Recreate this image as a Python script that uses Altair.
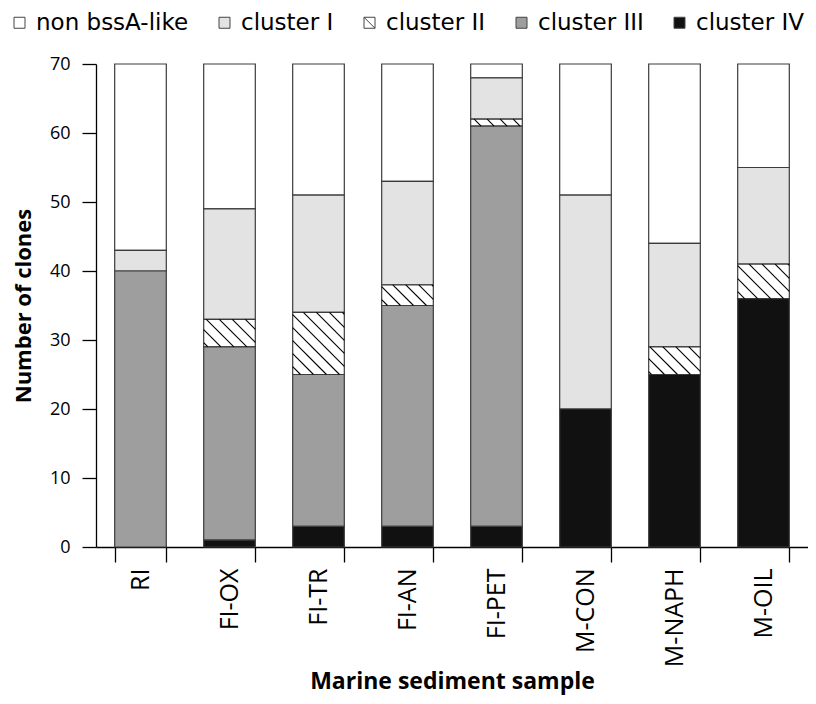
import math
import altair as alt
import pandas as pd

# ---- data ----
samples = ["RI", "FI-OX", "FI-TR", "FI-AN", "FI-PET", "M-CON", "M-NAPH", "M-OIL"]
non_bssa = [27, 21, 19, 17, 2, 19, 26, 15]
cluster_i = [3, 16, 17, 15, 6, 31, 15, 14]
cluster_ii = [0, 4, 9, 3, 1, 0, 4, 5]
cluster_iii = [40, 28, 22, 32, 58, 0, 0, 0]
cluster_iv = [0, 1, 3, 3, 3, 20, 25, 36]

groups = ["non bssA-like", "cluster I", "cluster II", "cluster III", "cluster IV"]
fills = ["#ffffff", "#e3e3e3", "#ffffff", "#9e9e9e", "#111111"]
series = {
    "non bssA-like": non_bssa,
    "cluster I": cluster_i,
    "cluster II": cluster_ii,
    "cluster III": cluster_iii,
    "cluster IV": cluster_iv,
}
stack_order = {"cluster IV": 0, "cluster III": 1, "cluster II": 2, "cluster I": 3, "non bssA-like": 4}

rows = []
for g in groups:
    for s, v in zip(samples, series[g]):
        if v > 0:
            rows.append({"sample": s, "group": g, "count": v, "ord": stack_order[g]})
df = pd.DataFrame(rows)

# ---- geometry ----
W, H = 712, 483
YMAX = 70
n = len(samples)
BAND = 0.58
step_px = W / n
y_px = H / YMAX
half = BAND / 2
SP = 13.0  # hatch spacing in px

# hatch lines for the cluster II segments, derived from the stacked data
hrows = []
for i, v in enumerate(cluster_ii):
    if v <= 0:
        continue
    base = cluster_iv[i] + cluster_iii[i]
    xl = (i + 0.5 - half) * step_px
    xr = (i + 0.5 + half) * step_px
    yb = base * y_px
    yt = (base + v) * y_px
    c = math.ceil((xl + yb) / SP) * SP
    while c < xr + yt:
        a = max(xl, c - yt)
        b = min(xr, c - yb)
        if b - a > 0.5:
            hrows.append({"hx": a / step_px, "hy": (c - a) / y_px,
                          "hx2": b / step_px, "hy2": (c - b) / y_px})
        c += SP
hdf = pd.DataFrame(hrows)

FONT = "Open Sans"

hatched_symbol = "M-1,-1H1V1H-1Z M-1,-1L1,1"
symbol_expr = "datum.value === 'cluster II' ? '%s' : 'square'" % hatched_symbol

bars = alt.Chart(df).mark_bar(stroke="#3c3c3c", strokeWidth=1.2).encode(
    x=alt.X(
        "sample:N",
        sort=samples,
        scale=alt.Scale(paddingInner=1 - BAND, paddingOuter=(1 - BAND) / 2),
        axis=alt.Axis(
            title="Marine sediment sample",
            tickBand="extent",
            labelAngle=-90,
            labelFont=FONT,
            labelFontSize=25,
            labelColor="#000",
            labelPadding=6,
            tickSize=15,
            tickColor="#000",
            tickWidth=1.3,
            domainColor="#000",
            domainWidth=1.3,
            titleFont=FONT,
            titleFontSize=23,
            titleFontWeight="bold",
            titleColor="#000",
            titleX=W / 2,
            titleY=141,
            titleBaseline="alphabetic",
        ),
    ),
    y=alt.Y(
        "count:Q",
        stack="zero",
        scale=alt.Scale(domain=[0, YMAX], nice=False),
        axis=alt.Axis(
            title="Number of clones",
            values=list(range(0, 71, 10)),
            grid=False,
            labelFont=FONT,
            labelFontSize=18,
            labelColor="#000",
            labelPadding=12,
            tickSize=14,
            tickColor="#000",
            tickWidth=1.3,
            domainColor="#000",
            domainWidth=1.3,
            titleFont=FONT,
            titleFontSize=22,
            titleFontWeight="bold",
            titleColor="#000",
            titleX=-73,
            titleY=H / 2,
            titleBaseline="middle",
        ),
    ),
    fill=alt.Fill(
        "group:N",
        scale=alt.Scale(domain=groups, range=fills),
        legend=alt.Legend(
            title=None,
            orient="none",
            legendX=-88,
            legendY=-53,
            direction="horizontal",
            columns=5,
            symbolType={"expr": symbol_expr},
            symbolSize=121,
            symbolStrokeColor="#444",
            symbolStrokeWidth=1,
            labelFont="DejaVu Sans",
            labelFontSize=23,
            labelColor="#000",
            labelLimit=400,
            labelOffset=5,
            columnPadding=24,
            padding=0,
        ),
    ),
    order=alt.Order("ord:Q", sort="ascending"),
)

hatch = alt.Chart(hdf).mark_rule(color="#000", strokeWidth=1.1).encode(
    x=alt.X("hx:Q", scale=alt.Scale(domain=[0, n], nice=False, zero=False), axis=None),
    x2="hx2:Q",
    y=alt.Y("hy:Q", title="Number of clones", scale=alt.Scale(domain=[0, YMAX], nice=False)),
    y2="hy2:Q",
)

chart = (
    alt.layer(bars, hatch)
    .resolve_scale(x="independent")
    .properties(
        width=W,
        height=H,
        padding={"left": 88, "top": 56, "right": 0, "bottom": 149},
        autosize=alt.AutoSizeParams(type="none"),
        background="white",
    )
    .configure_view(stroke=None)
)

chart.save("out.html", embed_options={"renderer": "svg", "actions": False})
